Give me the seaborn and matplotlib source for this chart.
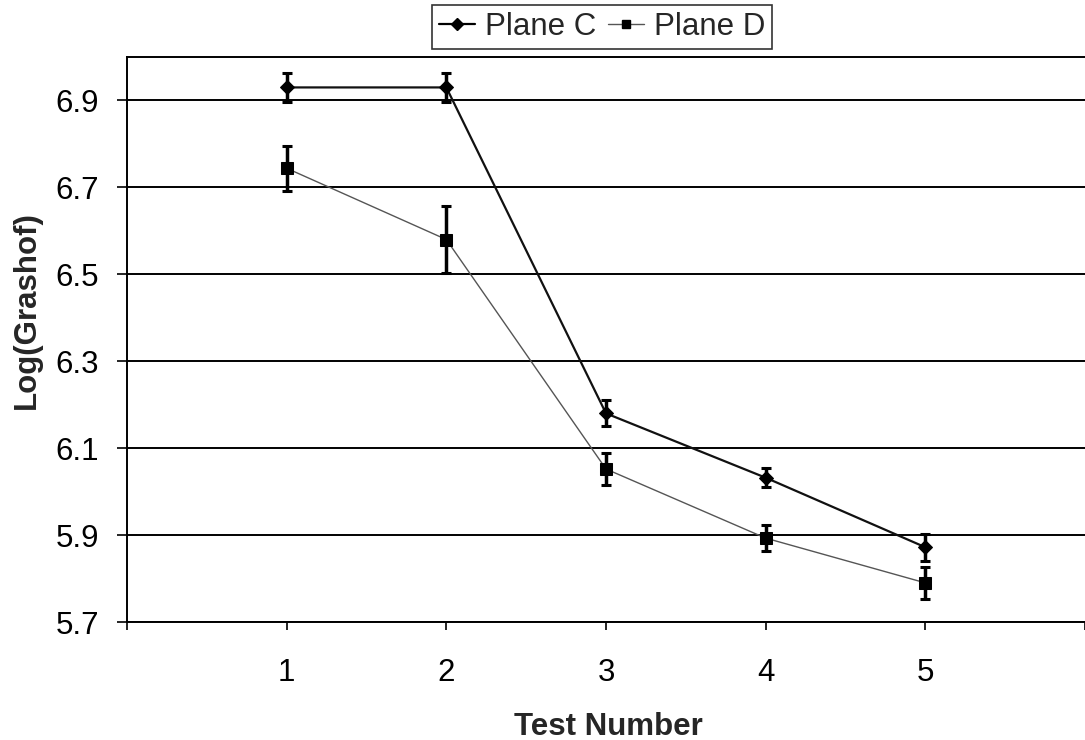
import matplotlib
matplotlib.use("Agg")
import matplotlib.pyplot as plt
import seaborn as sns
import pandas as pd
from matplotlib.lines import Line2D

tests = [1, 2, 3, 4, 5]
plane_c = [6.930, 6.930, 6.180, 6.032, 5.872]
plane_c_err = [0.034, 0.034, 0.030, 0.022, 0.031]
plane_d = [6.744, 6.580, 6.052, 5.893, 5.790]
plane_d_err = [0.052, 0.078, 0.037, 0.030, 0.037]
y_ticks = [5.7, 5.9, 6.1, 6.3, 6.5, 6.7, 6.9]
x_ticks = [0, 1, 2, 3, 4, 5, 6]
x_labels = ["", "1", "2", "3", "4", "5", ""]

sns.set_style("white")
plt.rcParams['font.family'] = ['Liberation Sans', 'DejaVu Sans']

df = pd.DataFrame({
    "Test": tests * 2,
    "Value": plane_c + plane_d,
    "Series": ["Plane C"] * 5 + ["Plane D"] * 5,
})

fig = plt.figure(figsize=(10.85, 7.4), dpi=100)
ax = fig.add_axes([127 / 1085, 1 - 622 / 740, 1 - 127 / 1085, (622 - 57) / 740])

for y in y_ticks:
    ax.axhline(y, color="black", lw=1.4, zorder=0)

sns.lineplot(data=df, x="Test", y="Value", hue="Series", style="Series",
             palette={"Plane C": "#111111", "Plane D": "#555555"},
             markers={"Plane C": "D", "Plane D": "s"},
             dashes=False, ax=ax, zorder=3, legend=False)
lines = ax.get_lines()[-2:]
lines[0].set_linewidth(1.6)
lines[0].set_markersize(7)
lines[0].set_markerfacecolor("black"); lines[0].set_markeredgecolor("black")
lines[1].set_linewidth(1.0)
lines[1].set_markersize(8)
lines[1].set_markerfacecolor("black"); lines[1].set_markeredgecolor("black")

ax.errorbar(tests, plane_c, yerr=plane_c_err, fmt="none", ecolor="black",
            elinewidth=2.5, capsize=3.5, capthick=2.2, zorder=4)
ax.errorbar(tests, plane_d, yerr=plane_d_err, fmt="none", ecolor="black",
            elinewidth=2.5, capsize=3.5, capthick=2.2, zorder=4)

ax.set_xlim(0, 5.97)
ax.set_ylim(5.7, 7.0)
ax.set_yticks(y_ticks)
ax.set_yticklabels([f"{v:.1f}" for v in y_ticks])
ax.set_xticks(x_ticks)
ax.set_xticklabels(x_labels)
ax.tick_params(axis="both", labelsize=22.5, colors="black", width=1.2,
               direction="out", left=True, bottom=True)
ax.tick_params(axis="x", length=6, pad=20)
ax.tick_params(axis="y", length=7, pad=13)

ax.set_xlabel("Test Number", fontsize=22.5, fontweight="bold")
ax.set_ylabel("Log(Grashof)", fontsize=22.5, fontweight="bold")
ax.xaxis.set_label_coords(0.503, -0.159)
ax.xaxis.label.set_va("top")
ax.yaxis.set_label_coords(-0.104, 0.552)
ax.yaxis.label.set_va("center")

for s in ["left", "bottom", "top"]:
    ax.spines[s].set_color("black")
    ax.spines[s].set_linewidth(1.4)
ax.spines["right"].set_visible(False)

handles = [
    Line2D([], [], color="black", lw=1.6, marker="D", markersize=6),
    Line2D([], [], color="#555555", lw=1.0, marker="s", markersize=6,
           markerfacecolor="black", markeredgecolor="black"),
]
leg = ax.legend(handles, ["Plane C", "Plane D"], loc="upper center",
                bbox_to_anchor=(0.496, 1.092), ncol=2, fontsize=22.5,
                frameon=True, fancybox=False, edgecolor="black",
                handlelength=1.15, handletextpad=0.3, columnspacing=0.4,
                borderpad=0.22, borderaxespad=0)
leg.get_frame().set_linewidth(1.2)

fig.savefig("out.png", dpi=100)
